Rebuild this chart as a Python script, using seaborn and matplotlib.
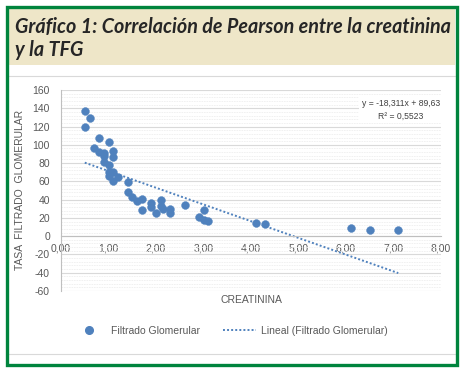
import numpy as np
import pandas as pd
import matplotlib
matplotlib.use("Agg")
import matplotlib.pyplot as plt
import seaborn as sns
from matplotlib.patches import Rectangle
from matplotlib.lines import Line2D
from matplotlib.ticker import MultipleLocator, FuncFormatter

# ── data ──
creatinina = [0.50, 0.60, 0.50, 0.80, 1.00, 0.70, 0.80, 0.90, 0.90, 1.10,
              1.10, 0.90, 1.00, 1.00, 1.00, 1.10, 1.10, 1.20, 1.40, 1.40,
              1.50, 1.60, 1.70, 1.70, 1.90, 1.90, 2.10, 2.10, 2.00, 2.15,
              2.30, 2.30, 2.60, 3.00, 2.90, 3.00, 3.10, 4.10, 4.30, 6.10,
              6.50, 7.10]
tfg = [136.6, 129.7, 119.9, 108.0, 102.7, 97.0, 91.8, 91.0, 87.4, 93.2,
       87.0, 80.9, 77.6, 70.3, 65.9, 70.3, 60.8, 64.8, 59.8, 48.8,
       42.6, 38.6, 40.8, 29.2, 36.4, 32.0, 39.3, 32.8, 25.9, 30.2,
       29.5, 25.9, 34.6, 28.4, 21.5, 18.2, 17.1, 13.9, 12.8, 8.7,
       6.5, 6.5]
slope = -18.311
intercept = 89.63
r2_text = "0,5523"

df = pd.DataFrame({"CREATININA": creatinina, "TFG": tfg})

BLUE = "#4F81BD"
GRAY_TXT = "#595959"
W, H = 463, 374

sns.set_style("white")
plt.rcParams["font.family"] = ["Liberation Sans", "DejaVu Sans"]

fig = plt.figure(figsize=(W / 100, H / 100), dpi=100)

def fx(px):
    return px / W

def fy(py):
    return 1 - py / H

# ── frame: green border, beige title band, chart box lines ──
fig.patches.append(Rectangle((fx(8), fy(65)), fx(447), 57 / H, transform=fig.transFigure,
                             facecolor="#EEE6C8", edgecolor="none", zorder=0))
fig.add_artist(Line2D([fx(8), fx(455)], [fy(76), fy(76)], color="#D9D9D9", lw=0.8))
fig.add_artist(Line2D([fx(8), fx(455)], [fy(354), fy(354)], color="#D9D9D9", lw=0.8))
fig.patches.append(Rectangle((fx(6.5), fy(364.5)), fx(450), 358 / H, transform=fig.transFigure,
                             facecolor="none", edgecolor="#00843D", lw=2.4, zorder=5))

title_kw = dict(fontsize=14.2, fontweight="bold", style="italic", color="#262626",
                family=["Lato", "DejaVu Sans"], va="center", ha="left")
fig.text(fx(15), fy(27), "Gráfico 1: Correlación de Pearson entre la creatinina", **title_kw)
fig.text(fx(15), fy(50), "y la TFG", **title_kw)

# ── axes ──
ax = fig.add_axes([fx(61), fy(291), 380 / W, 201 / H])
ax.set_xlim(0, 8)
ax.set_ylim(-60, 160)

ax.yaxis.set_major_locator(MultipleLocator(20))
ax.yaxis.set_minor_locator(MultipleLocator(4))
ax.xaxis.set_major_locator(MultipleLocator(1))
ax.grid(which="major", axis="y", color="#D9D9D9", lw=0.8)
ax.grid(which="minor", axis="y", color="#EFEFEF", lw=0.6, ls=(0, (2, 1)))
ax.grid(which="major", axis="x", visible=False)
ax.set_axisbelow(True)

for s in ["top", "right"]:
    ax.spines[s].set_visible(False)
ax.spines["bottom"].set_position(("data", 0))
ax.spines["bottom"].set_color("#BFBFBF")
ax.spines["left"].set_color("#BFBFBF")
ax.spines["bottom"].set_linewidth(0.8)
ax.spines["left"].set_linewidth(0.8)

ax.tick_params(axis="both", which="major", direction="out", length=3, width=0.8,
               color="#BFBFBF", labelsize=7.5, labelcolor=GRAY_TXT, pad=5)
ax.tick_params(axis="x", pad=2)
ax.tick_params(which="minor", length=0)
ax.xaxis.set_major_formatter(FuncFormatter(lambda v, p: f"{v:.2f}".replace(".", ",")))
ax.yaxis.set_major_formatter(FuncFormatter(lambda v, p: f"{v:.0f}"))

sns.scatterplot(data=df, x="CREATININA", y="TFG", ax=ax, color=BLUE, s=32,
                edgecolor=BLUE, linewidth=0.3, zorder=3, legend=False)

xs = np.array([min(creatinina), max(creatinina)])
ax.plot(xs, slope * xs + intercept, color=BLUE, lw=1.4, ls=(0, (1, 1.1)), zorder=2)

ax.set_xlabel("")
ax.set_ylabel("")
fig.text(fx(251), fy(300), "CREATININA", fontsize=7.5, color=GRAY_TXT, ha="center", va="center")
fig.text(fx(20), fy(190), "TASA  FILTRADO  GLOMERULAR", fontsize=7.5, color=GRAY_TXT,
         ha="center", va="center", rotation=90)

eq = f"y = {slope:.3f}x + {intercept:.2f}".replace(".", ",")
ax.text(7.15, 150.5, eq + "\nR² = " + r2_text, fontsize=6.2, color="#404040",
        ha="center", va="top", linespacing=1.55,
        bbox=dict(facecolor="white", edgecolor="none", pad=2), zorder=4)

# ── legend ──
handles = [Line2D([], [], ls="none", marker="o", markersize=5.5, color=BLUE),
           Line2D([], [], color=BLUE, lw=1.4, ls=(0, (1, 1.1)))]
fig.legend(handles, ["Filtrado Glomerular", "Lineal (Filtrado Glomerular)"],
           loc="center", bbox_to_anchor=(fx(230), fy(331)), ncol=2, frameon=False,
           fontsize=7.5, labelcolor=GRAY_TXT, handlelength=3.2, columnspacing=2.2,
           handletextpad=0.5)

fig.savefig("out.png", dpi=100)
